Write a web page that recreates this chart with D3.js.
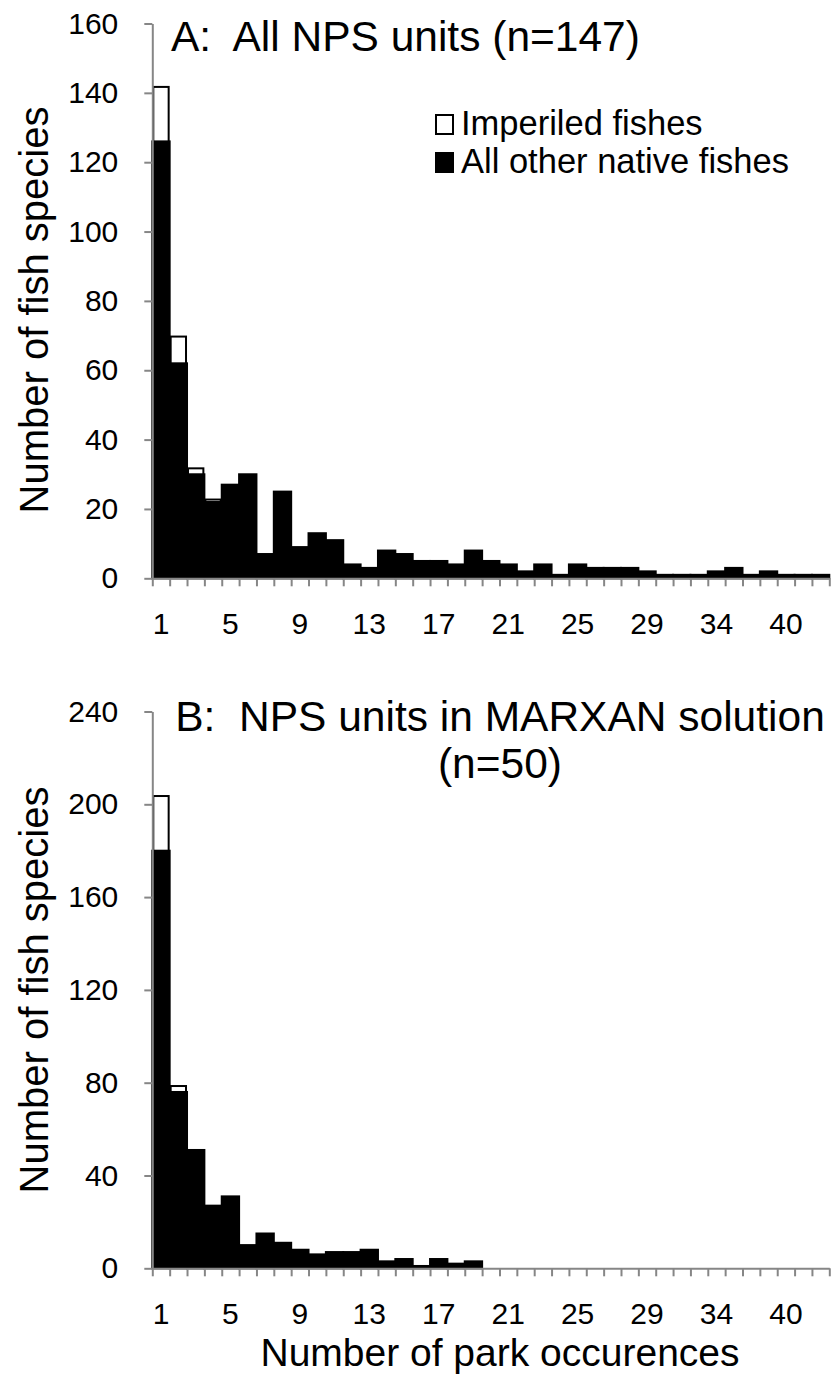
<!DOCTYPE html>
<html>
<head>
<meta charset="utf-8">
<script src="https://cdn.jsdelivr.net/npm/d3@7"></script>
<style>
  html, body { margin: 0; padding: 0; background: #fff; }
  svg text { font-family: "Liberation Sans", Arial, sans-serif; white-space: pre; }
</style>
</head>
<body>
<svg id="chart" width="832" height="1380"></svg>
<script>
// Category labels (number of park occurrences)
const categories = [1,2,3,4,5,6,7,8,9,10,11,12,13,14,15,16,17,18,19,20,21,22,23,24,25,26,27,28,29,30,31,33,34,35,37,38,40,43,47];
const shownLabels = [1,5,9,13,17,21,25,29,34,40];

// Panel A: All NPS units (n=147)
const nativeA    = [126,62,30,22,27,30,7,25,9,13,11,4,3,8,7,5,5,4,8,5,4,2,4,1,4,3,3,3,2,1,1,1,2,3,1,2,1,1,1];
const imperiledA = [16,8,2,1,0,0,0,0,0,0,0,0,0,0,0,0,0,0,0,0,0,0,0,0,0,0,0,0,0,0,0,0,0,0,0,0,0,0,0];

// Panel B: NPS units in MARXAN solution (n=50)
const nativeB    = [180,76,51,27,31,10,15,11,8,6,7,7,8,3,4,1,4,2,3,0,0,0,0,0,0,0,0,0,0,0,0,0,0,0,0,0,0,0,0];
const imperiledB = [24,3,0,0,0,0,0,0,0,0,0,0,0,0,0,0,0,0,0,0,0,0,0,0,0,0,0,0,0,0,0,0,0,0,0,0,0,0,0];

const yTicksA = [0,20,40,60,80,100,120,140,160];
const yTicksB = [0,40,80,120,160,200,240];

const svg = d3.select("#chart");
const axisColor = "#868686";
const X0 = 152.3, X1 = 829.3;

const xBand = d3.scaleBand().domain(d3.range(categories.length)).range([X0, X1]).padding(0);
const xEdge = d3.scaleLinear().domain([0, categories.length]).range([X0, X1]);

function panel(opts) {
  const { nativeVals, impVals, yMax, yTicks, yBottom, yTop } = opts;
  const y = d3.scaleLinear().domain([0, yMax]).range([yBottom, yTop]);
  const g = svg.append("g");

  const data = categories.map((c, i) => ({ i, n: nativeVals[i], m: impVals[i] }));
  g.selectAll("rect.nat").data(data.filter(d => d.n > 0)).join("rect")
    .attr("class", "nat")
    .attr("x", d => xBand(d.i))
    .attr("width", xBand.bandwidth())
    .attr("y", d => y(d.n))
    .attr("height", d => y(0) - y(d.n))
    .attr("fill", "#000").attr("stroke", "#000").attr("stroke-width", 2);
  g.selectAll("rect.imp").data(data.filter(d => d.m > 0)).join("rect")
    .attr("class", "imp")
    .attr("x", d => xBand(d.i) + 1)
    .attr("width", xBand.bandwidth() - 2)
    .attr("y", d => y(d.n + d.m) + 1)
    .attr("height", d => y(d.n) - y(d.n + d.m) - 1)
    .attr("fill", "#fff").attr("stroke", "#000").attr("stroke-width", 2);

  const ya = g.append("g").attr("transform", `translate(${X0},0)`)
    .call(d3.axisLeft(y).tickValues(yTicks).tickSize(8).tickSizeOuter(0).tickPadding(26));
  ya.select(".domain").attr("stroke", axisColor).attr("stroke-width", 2);
  ya.selectAll(".tick line").attr("stroke", axisColor).attr("stroke-width", 2);
  ya.selectAll(".tick text").attr("font-size", 30).attr("fill", "#000")
    .attr("font-family", '"Liberation Sans", Arial, sans-serif');

  const xa = g.append("g").attr("transform", `translate(0,${yBottom})`)
    .call(d3.axisBottom(xEdge).tickValues(d3.range(categories.length + 1)).tickFormat("").tickSize(8).tickSizeOuter(0));
  xa.select(".domain").attr("stroke", axisColor).attr("stroke-width", 2);
  xa.selectAll(".tick line").attr("stroke", axisColor).attr("stroke-width", 2);

  const xl = g.append("g").attr("transform", `translate(0,${yBottom})`)
    .call(d3.axisBottom(xBand)
      .tickValues(d3.range(categories.length).filter(i => shownLabels.includes(categories[i])))
      .tickFormat(i => categories[i]).tickSize(0).tickPadding(34));
  xl.select(".domain").remove();
  xl.selectAll(".tick text").attr("font-size", 30).attr("fill", "#000")
    .attr("font-family", '"Liberation Sans", Arial, sans-serif');

  return y;
}

panel({ nativeVals: nativeA, impVals: imperiledA, yMax: 160, yTicks: yTicksA, yBottom: 578.3, yTop: 23.5 });
panel({ nativeVals: nativeB, impVals: imperiledB, yMax: 240, yTicks: yTicksB, yBottom: 1268.3, yTop: 711.5 });

// titles
svg.append("text").attr("x", 171).attr("y", 51).attr("font-size", 42.5).text("A:  All NPS units (n=147)");
svg.append("text").attr("x", 500).attr("y", 731).attr("font-size", 42.5).attr("text-anchor", "middle").text("B:  NPS units in MARXAN solution");
svg.append("text").attr("x", 500).attr("y", 778).attr("font-size", 42.5).attr("text-anchor", "middle").text("(n=50)");

// y axis titles
svg.append("text").attr("transform", "translate(48,310) rotate(-90)").attr("text-anchor", "middle")
  .attr("font-size", 40).text("Number of fish species");
svg.append("text").attr("transform", "translate(48,990) rotate(-90)").attr("text-anchor", "middle")
  .attr("font-size", 40).text("Number of fish species");

// x axis title
svg.append("text").attr("x", 500).attr("y", 1366).attr("text-anchor", "middle")
  .attr("font-size", 39).text("Number of park occurences");

// legend
const legendItems = ["Imperiled fishes", "All other native fishes"];
const legendFill = ["#fff", "#000"];
const lg = svg.append("g");
legendItems.forEach((t, k) => {
  const yy = 135 + k * 38;
  lg.append("rect").attr("x", 436).attr("y", yy - 20).attr("width", 17).attr("height", 19)
    .attr("fill", legendFill[k]).attr("stroke", "#000").attr("stroke-width", 2);
  lg.append("text").attr("x", 461).attr("y", yy).attr("font-size", 34.5).text(t);
});
</script>
</body>
</html>
